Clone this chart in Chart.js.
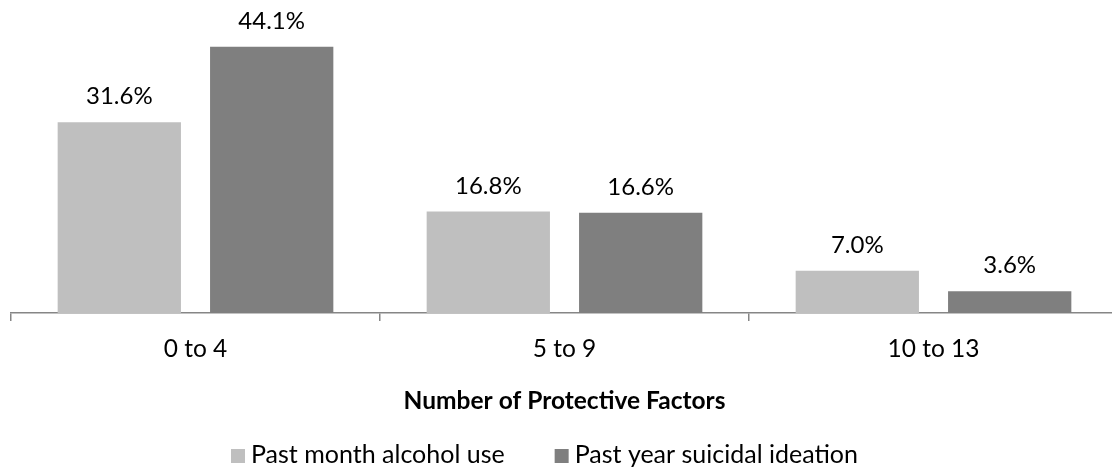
<!DOCTYPE html>
<html>
<head>
<meta charset="utf-8">
<script src="https://cdn.jsdelivr.net/npm/chart.js@4.4.0/dist/chart.umd.min.js"></script>
<style>
  html, body { margin: 0; padding: 0; background: #fff; overflow: hidden; }
  #wrap { position: relative; width: 1118px; height: 470px; }
</style>
</head>
<body>
<div id="wrap"><canvas id="chart"></canvas></div>
<script>
const categories = ['0 to 4', '5 to 9', '10 to 13'];
const seriesNames = ['Past month alcohol use', 'Past year suicidal ideation'];
const alcoholUse = [31.6, 16.8, 7.0];
const suicidalIdeation = [44.1, 16.6, 3.6];
const seriesColors = ['#bfbfbf', '#7f7f7f'];
const axisTitle = 'Number of Protective Factors';

const FONT = 'Lato';
const FONT_SIZE = 24.5;

// value labels above each bar
const barLabels = {
  id: 'barLabels',
  afterDatasetsDraw(chart) {
    const ctx = chart.ctx;
    ctx.save();
    ctx.font = '24px ' + FONT;
    ctx.fillStyle = '#000';
    ctx.textAlign = 'center';
    ctx.textBaseline = 'alphabetic';
    chart.data.datasets.forEach((ds, i) => {
      chart.getDatasetMeta(i).data.forEach((bar, j) => {
        ctx.fillText(ds.data[j].toFixed(1) + '%', bar.x, bar.y - 18);
      });
    });
    ctx.restore();
  }
};

// legend with small squares under the axis title
const squareLegend = {
  id: 'squareLegend',
  afterDraw(chart) {
    const ctx = chart.ctx;
    ctx.save();
    ctx.font = '25px ' + FONT;
    ctx.textBaseline = 'alphabetic';
    ctx.textAlign = 'left';
    const box = 14, gap = 6, between = 50;
    let x = 231;
    const base = 463;
    chart.data.datasets.forEach(ds => {
      ctx.fillStyle = ds.backgroundColor;
      ctx.fillRect(x, base - box, box, box);
      ctx.fillStyle = '#000';
      ctx.fillText(ds.label, x + box + gap, base);
      x += box + gap + ctx.measureText(ds.label).width + between;
    });
    ctx.restore();
  }
};

new Chart(document.getElementById('chart'), {
  type: 'bar',
  data: {
    labels: categories,
    datasets: [
      { label: seriesNames[0], data: alcoholUse, backgroundColor: seriesColors[0] },
      { label: seriesNames[1], data: suicidalIdeation, backgroundColor: seriesColors[1] }
    ]
  },
  options: {
    responsive: true,
    maintainAspectRatio: false,
    animation: false,
    categoryPercentage: 0.826,
    barPercentage: 0.809,
    layout: { padding: { left: 11, right: 0, top: 11, bottom: 0 } },
    plugins: { legend: { display: false }, tooltip: { enabled: false } },
    scales: {
      y: { display: false, min: 0, max: 50 },
      x: {
        afterFit(scale) { scale.height = 157; },
        border: { display: true, color: '#868686', width: 1.5 },
        grid: { offset: true, drawOnChartArea: false, drawTicks: true, tickLength: 8, color: '#868686', lineWidth: 1.5 },
        ticks: { color: '#000', padding: 13, font: { family: FONT, size: FONT_SIZE } },
        title: {
          display: true,
          text: axisTitle,
          color: '#000',
          font: { family: FONT, size: FONT_SIZE, weight: 'bold' },
          padding: { top: 0, bottom: 54 }
        }
      }
    }
  },
  plugins: [barLabels, squareLegend]
});
</script>
</body>
</html>
